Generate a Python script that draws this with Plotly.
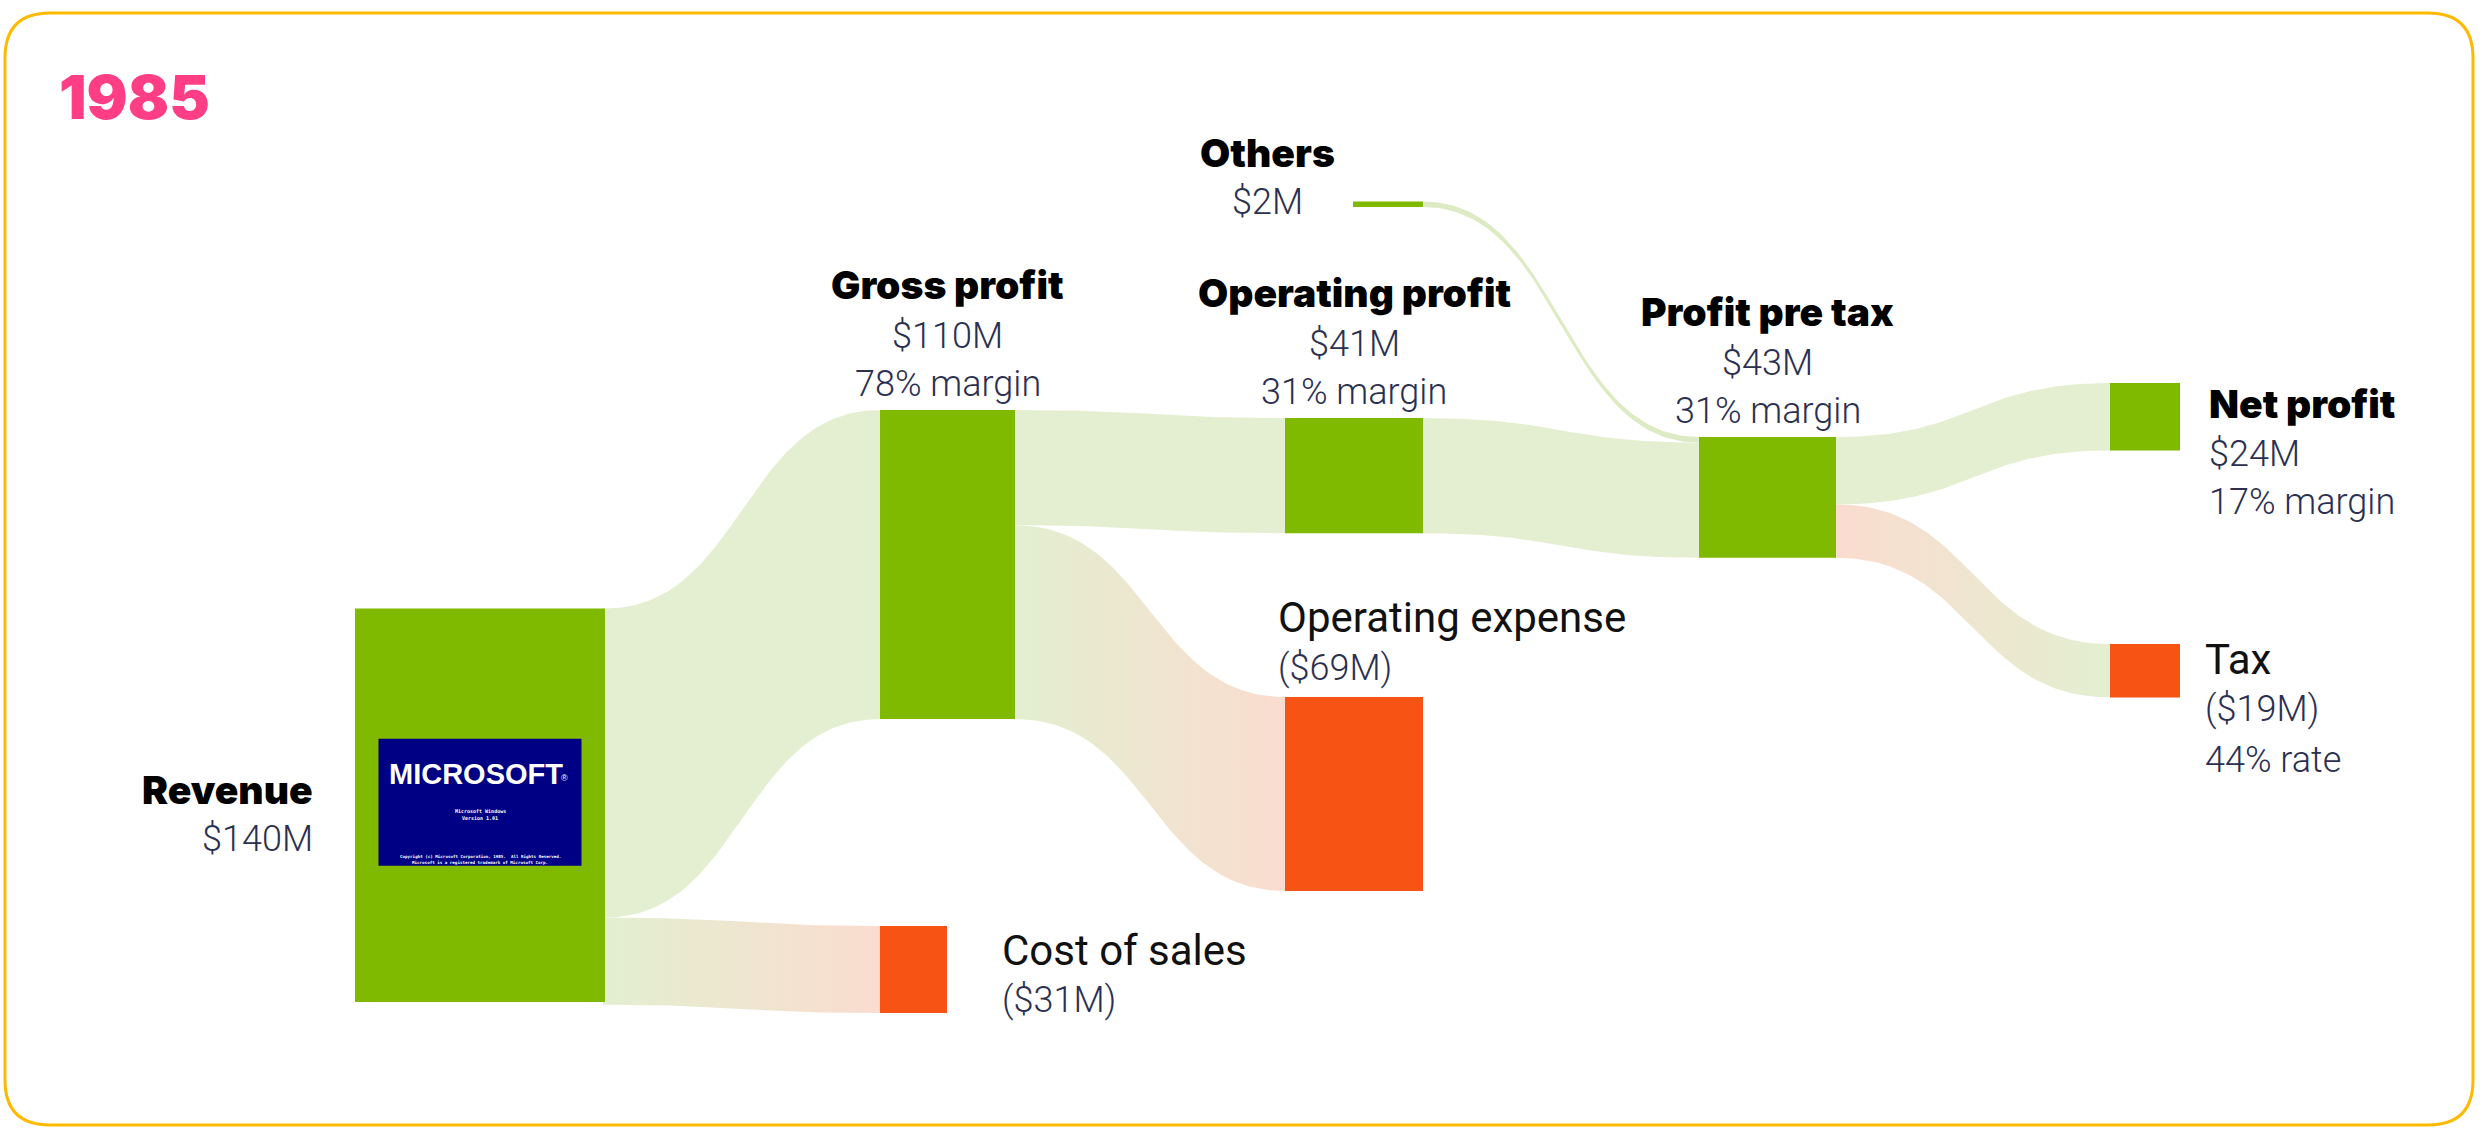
import numpy as np
import plotly.graph_objects as go

# ---------------- data ($M) ----------------
year_label = "1985"
node_names = ["Revenue", "Gross profit", "Cost of sales", "Operating profit",
              "Operating expense", "Others", "Profit pre tax", "Net profit", "Tax"]
node_values = [140, 110, 31, 41, 69, 2, 43, 24, 19]
node_kind = ["gain", "gain", "cost", "gain", "cost", "gain", "gain", "gain", "cost"]
node_notes = ["", "78% margin", "", "31% margin", "", "", "31% margin", "17% margin", "44% rate"]

link_sources = ["Revenue", "Revenue", "Gross profit", "Gross profit",
                "Others", "Operating profit", "Profit pre tax", "Profit pre tax"]
link_targets = ["Gross profit", "Cost of sales", "Operating profit", "Operating expense",
                "Profit pre tax", "Profit pre tax", "Net profit", "Tax"]
link_values = [110, 31, 41, 69, 2, 41, 24, 19]

splash_title = "MICROSOFT"
splash_lines_mid = ["Microsoft Windows", "Version 1.01"]
splash_lines_low = ["Copyright (c) Microsoft Corporation, 1985.  All Rights Reserved.",
                    "Microsoft is a registered trademark of Microsoft Corp."]

# ---------------- layout / style ----------------
W, H = 2482, 1138
PX_PER_M = 2.81
GREEN, ORANGE = "#7FBA00", "#F65314"
LINK_GREEN, LINK_PINK = "#E3EFD0", "#FADCCF"
NAVY = "#2B3050"
HEAVY = "Inter"
HEAVY_W = 900
LIGHT = "Roboto"
NAME_SIZE = 39

# x0, width, top (px)
geom = {
    "Revenue": (355, 250, 608.5),
    "Gross profit": (880, 135, 410),
    "Cost of sales": (880, 67, 926),
    "Operating profit": (1285, 138, 418),
    "Operating expense": (1285, 138, 697),
    "Others": (1353, 70, 201.5),
    "Profit pre tax": (1699, 137, 437),
    "Net profit": (2110, 70, 383),
    "Tax": (2110, 70, 644),
}
# link colour direction: (colour at source, colour at target)
link_cols = [(LINK_GREEN, LINK_GREEN), (LINK_GREEN, LINK_PINK), (LINK_GREEN, LINK_GREEN),
             (LINK_GREEN, LINK_PINK), ("#DCEBC4", "#DCEBC4"), (LINK_GREEN, LINK_GREEN),
             (LINK_GREEN, LINK_GREEN), (LINK_PINK, LINK_GREEN)]

vals = dict(zip(node_names, node_values))
kinds = dict(zip(node_names, node_kind))
notes = dict(zip(node_names, node_notes))

fig = go.Figure()


def bez(x0, y0, x1, y1, n=80):
    t = np.linspace(0, 1, n)
    xm = (x0 + x1) / 2
    x = (1 - t) ** 3 * x0 + 3 * (1 - t) ** 2 * t * xm + 3 * (1 - t) * t ** 2 * xm + t ** 3 * x1
    y = (1 - t) ** 3 * y0 + 3 * (1 - t) ** 2 * t * y0 + 3 * (1 - t) * t ** 2 * y1 + t ** 3 * y1
    return x, y


out_off = {n: 0.0 for n in node_names}
in_off = {n: 0.0 for n in node_names}
for s, t, v, (c0, c1) in zip(link_sources, link_targets, link_values, link_cols):
    sx0, sw, stop = geom[s]
    tx0, tw, ttop = geom[t]
    xs = sx0 + sw
    xt = tx0
    th = v * PX_PER_M
    ys0 = stop + out_off[s]
    yt0 = ttop + in_off[t]
    out_off[s] += th
    in_off[t] += th
    xa, ya = bez(xs, ys0, xt, yt0)
    xb, yb = bez(xs, ys0 + th, xt, yt0 + th)
    px = np.concatenate([[xs - 2], xa, [xt + 2, xt + 2], xb[::-1], [xs - 2]])
    py = np.concatenate([[ys0], ya, [yt0, yt0 + th], yb[::-1], [ys0 + th]])
    fig.add_trace(go.Scatter(
        x=px, y=py, mode="lines", line=dict(width=0), fill="toself",
        fillcolor=c0,
        fillgradient=dict(type="horizontal", colorscale=[[0, c0], [1, c1]],
                          start=xs, stop=xt),
        hoverinfo="skip", showlegend=False))

shapes = []
# frame
fx0, fy0, fx1, fy1, r = 5, 13, 2473, 1125, 45
shapes.append(dict(
    type="path", xref="x", yref="y",
    path=(f"M {fx0+r},{fy0} L {fx1-r},{fy0} Q {fx1},{fy0} {fx1},{fy0+r} "
          f"L {fx1},{fy1-r} Q {fx1},{fy1} {fx1-r},{fy1} L {fx0+r},{fy1} "
          f"Q {fx0},{fy1} {fx0},{fy1-r} L {fx0},{fy0+r} Q {fx0},{fy0} {fx0+r},{fy0} Z"),
    line=dict(color="#FFB900", width=3), fillcolor="rgba(0,0,0,0)", layer="below"))

# nodes
for n in node_names:
    x0, w, top = geom[n]
    h = vals[n] * PX_PER_M
    shapes.append(dict(type="rect", xref="x", yref="y", x0=x0, x1=x0 + w, y0=top, y1=top + h,
                       fillcolor=GREEN if kinds[n] == "gain" else ORANGE,
                       line=dict(width=0), layer="above"))

# splash screen inside revenue node
rx0, rw, rtop = geom["Revenue"]
rcx = rx0 + rw / 2
rcy = rtop + vals["Revenue"] * PX_PER_M / 2 - 3
sw_, sh_ = 203, 127
shapes.append(dict(type="rect", xref="x", yref="y", x0=rcx - sw_ / 2, x1=rcx + sw_ / 2,
                   y0=rcy - sh_ / 2, y1=rcy + sh_ / 2, fillcolor="#000084",
                   line=dict(width=0), layer="above"))

ann = []


def txt(x, y, s, size, color, family, weight=400, xanchor="center"):
    ann.append(dict(x=x, y=y, xref="x", yref="y", text=s, showarrow=False,
                    xanchor=xanchor, yanchor="middle",
                    font=dict(family=family, size=size, color=color, weight=weight)))


def money(n):
    v = vals[n]
    return f"${v}M" if kinds[n] == "gain" else f"(${v}M)"


for n in node_names:
    x0, w, top = geom[n]
    h = vals[n] * PX_PER_M
    cx = x0 + w / 2
    if n == "Revenue":
        xr = x0 - 40
        txt(xr, top + h / 2 - 16, n, NAME_SIZE, "#000000", HEAVY, HEAVY_W, "right")
        txt(xr, top + h / 2 + 34, money(n), 36, NAVY, LIGHT, 300, "right")
    elif n == "Others":
        xc = x0 - 86
        txt(xc, top + h / 2 - 52, n, NAME_SIZE, "#000000", HEAVY, HEAVY_W)
        txt(xc, top + h / 2 - 2, money(n), 36, NAVY, LIGHT, 300)
    elif n in ("Gross profit", "Operating profit", "Profit pre tax"):
        txt(cx, top - 126, n, NAME_SIZE, "#000000", HEAVY, HEAVY_W)
        txt(cx, top - 74, money(n), 36, NAVY, LIGHT, 300)
        txt(cx, top - 26, notes[n], 36, NAVY, LIGHT, 300)
    elif n == "Net profit":
        xl = x0 + w + 27
        txt(xl, top + 20, n, NAME_SIZE, "#000000", HEAVY, HEAVY_W, "left")
        txt(xl, top + 71, money(n), 36, NAVY, LIGHT, 300, "left")
        txt(xl, top + 119, notes[n], 36, NAVY, LIGHT, 300, "left")
    elif n == "Tax":
        xl = x0 + w + 23
        txt(xl, top + 15, n, 42, "#111111", LIGHT, 400, "left")
        txt(xl, top + 65, money(n), 36, NAVY, LIGHT, 300, "left")
        txt(xl, top + 116, notes[n], 36, NAVY, LIGHT, 300, "left")
    elif n == "Operating expense":
        xl = x0 - 9
        txt(xl, top - 80, n, 42, "#111111", LIGHT, 400, "left")
        txt(xl, top - 29, money(n), 36, NAVY, LIGHT, 300, "left")
    elif n == "Cost of sales":
        xl = x0 + w + 53
        txt(xl, top + 24, n, 42, "#111111", LIGHT, 400, "left")
        txt(xl, top + 74, money(n), 36, NAVY, LIGHT, 300, "left")

# title
txt(57, 97, year_label, 61, "#FF3E85", HEAVY, HEAVY_W, "left")

# splash texts
txt(rcx - 4, rcy - 28, splash_title, 29, "#FFFFFF", "Liberation Sans", 700)
txt(rcx + 84, rcy - 24, "®", 9, "#FFFFFF", "Liberation Sans", 400)
txt(rcx, rcy + 9, splash_lines_mid[0], 5, "#FFFFFF", "DejaVu Sans Mono", 700)
txt(rcx, rcy + 16, splash_lines_mid[1], 5, "#FFFFFF", "DejaVu Sans Mono", 700)
txt(rcx, rcy + 54, splash_lines_low[0], 4.2, "#FFFFFF", "DejaVu Sans Mono", 700)
txt(rcx, rcy + 60, splash_lines_low[1], 4.2, "#FFFFFF", "DejaVu Sans Mono", 700)

fig.update_layout(
    width=W, height=H, margin=dict(l=0, r=0, t=0, b=0),
    paper_bgcolor="white", plot_bgcolor="white",
    xaxis=dict(range=[0, W], visible=False, fixedrange=True),
    yaxis=dict(range=[H, 0], visible=False, fixedrange=True),
    shapes=shapes, annotations=ann, showlegend=False,
)

fig.write_html("out.html", config={"displayModeBar": False},
               post_script="document.body.style.margin='0';document.body.style.overflow='hidden';")
